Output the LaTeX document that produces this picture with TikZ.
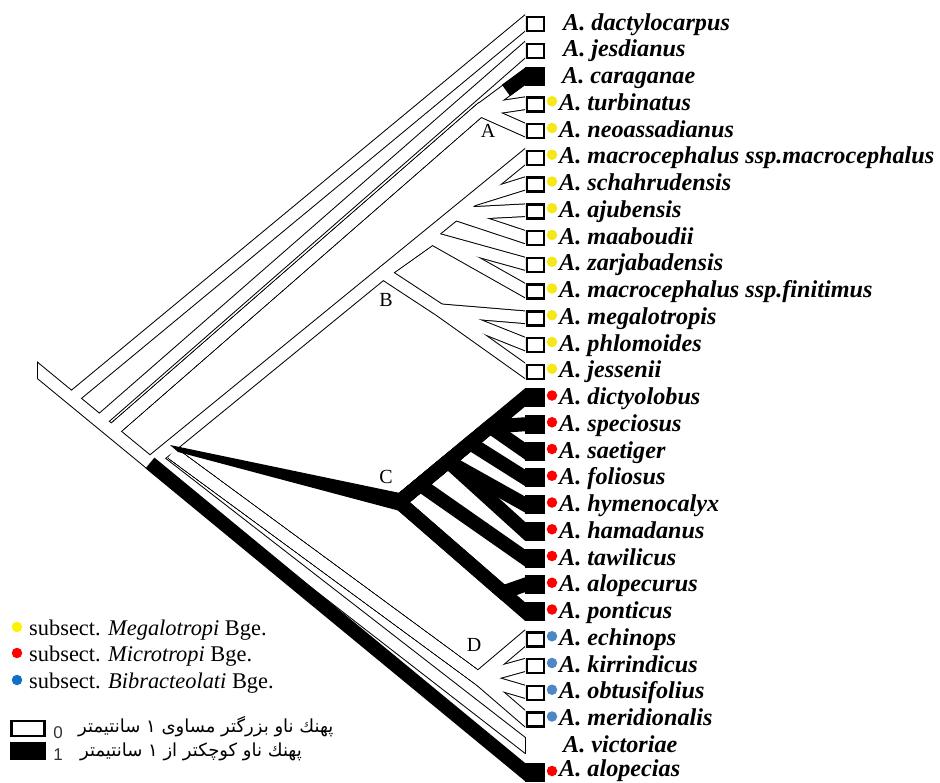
\documentclass[tikz,border=0pt]{standalone}
\usepackage{fontspec}
\setmainfont{Liberation Serif}
\newfontfamily\arabicfont[Script=Arabic]{DejaVu Sans}
\newfontfamily\legsans{Liberation Sans}
\TeXXeTstate=1
\definecolor{dotyel}{HTML}{F5E81A}
\definecolor{dotred}{HTML}{FF0000}
\definecolor{dotblu}{HTML}{4F86C6}
\definecolor{legblu}{HTML}{1070C8}
\tikzset{
  wout/.style={draw=black,line width=13.6pt,line cap=butt,line join=miter},
  win/.style={draw=white,line width=11.6pt,line cap=butt,line join=miter},
  blk/.style={draw=black,line width=14pt,line cap=butt,line join=miter},
  tipx/.style={shorten >=-14pt},
  wbox/.style={draw=black,line width=2.5pt,fill=white,minimum width=17pt,minimum height=14pt,inner sep=0pt},
  bbox/.style={fill=black,minimum width=20pt,minimum height=19pt,inner sep=0pt},
  tdot/.style={circle,inner sep=0pt,minimum size=10.5pt},
  lab/.style={anchor=base west,font=\fontsize{24.2}{24}\selectfont\bfseries\itshape,inner sep=0pt},
  clab/.style={font=\fontsize{20}{20}\selectfont,inner sep=0pt},
  leg/.style={anchor=base west,font=\fontsize{22.4}{22}\selectfont,inner sep=0pt},
  pers/.style={anchor=base west,font=\arabicfont\fontsize{18}{18}\selectfont,inner sep=0pt},
}
\newcommand\wpaths[1]{%
  \draw[#1,shorten <=-12pt] (S0) -- (N2);
  \draw[#1,tipx] (R) -- (t1);
  \draw[#1,tipx] (N1) -- (t2);
  \draw[#1,tipx] (N1b) -- (nA) -- (t3);
  \draw[#1,tipx] (N1b) -- (nA) -- (t4);
  \draw[#1,tipx] (N1b) -- (nA) -- (t5);
  \draw[#1,tipx] (N2) -- (t6);
  \draw[#1,tipx] (nBs) -- (t7);
  \draw[#1,tipx] (nBm) -- (t8);
  \draw[#1,tipx] (nBm) -- (t9);
  \draw[#1,tipx] (nB) -- (nBf) -- (t10);
  \draw[#1,tipx] (nB) -- (nBf) -- (t11);
  \draw[#1,tipx] (nB) -- (nBj) -- (t14);
  \draw[#1,tipx] (nBj) -- (t13);
  \draw[#1,tipx] (nBj) -- (t12);
  \draw[#1,tipx] (Dp) -- (nD) -- (t24);
  \draw[#1,tipx] (Dp) -- (nD) -- (t25);
  \draw[#1,tipx] (Dp) -- (nD) -- (t26);
  \draw[#1,tipx] (Dp) -- (nD) -- (t27);
  \draw[#1,tipx] (Vp) -- (t28);
}
\begin{document}
\begin{tikzpicture}[x=1pt,y=-1pt]
\useasboundingbox (0,0) rectangle (940,782);
% tip coordinates
\foreach \i in {1,...,29}{\coordinate (t\i) at (525,{23+26.75*(\i-1)});}
% internal nodes
\coordinate (S0) at (37,370);
\coordinate (R) at (72,398);
\coordinate (N1) at (100,421);
\coordinate (N1b) at (112,431);
\coordinate (N2) at (150,463);
\coordinate (nA) at (480,110);
\coordinate (cgs) at (506,90.4);
\coordinate (nB) at (383,272.8);
\coordinate (nBm) at (455,213.9);
\coordinate (nBs) at (472,200);
\coordinate (nBf) at (432,238);
\coordinate (nBj) at (440,310.2);
\coordinate (Ca) at (170,445);
\coordinate (Cb) at (178,452);
\coordinate (Cu) at (400,493);
\coordinate (Cl) at (400,511);
\coordinate (nC) at (399,502);
\coordinate (c1) at (420,484.6);
\coordinate (c2) at (448,461.4);
\coordinate (c3) at (470,443.1);
\coordinate (c4) at (490,426.6);
\coordinate (nCl) at (503,592.4);
\coordinate (Dp) at (172,453);
\coordinate (nD) at (478,678);
\coordinate (Vp) at (160,462);
\begin{scope}
  \clip (37,0) rectangle (525,782);
  \wpaths{wout}
  \wpaths{win}
  % black branches
  \draw[blk,tipx] (N2) -- (t29);
  \fill (Ca) -- (Cu) -- (Cl) -- (Cb) -- cycle;
  \draw[blk,tipx] (nC) -- (t15);
  \draw[blk,tipx] (nC) -- (c1) -- (t21);
  \draw[blk,tipx] (nC) -- (c2) -- (t19);
  \draw[blk,tipx] (nC) -- (c2) -- (t20);
  \draw[blk,tipx] (nC) -- (c3) -- (t18);
  \draw[blk,tipx] (nC) -- (c4) -- (t17);
  \draw[blk,tipx] (nC) -- (c4) -- (t16);
  \draw[blk,tipx] (nC) -- (nCl) -- (t22);
  \draw[blk,tipx] (nC) -- (nCl) -- (t23);
  \draw[blk,tipx] (cgs) -- (t3);
\end{scope}
\coordinate (s0a) at (37.5,361.5);
\coordinate (s0b) at (37.5,378.5);
\draw[line width=1pt] (s0a) -- (s0b);
\coordinate (va) at (525,736.5);
\coordinate (vb) at (525,754);
\draw[line width=1pt] (va) -- (vb);
% clade labels
\node[clab] (lA) at (488,131) {A};
\node[clab] (lB) at (386,300) {B};
\node[clab] (lC) at (386,477) {C};
\node[clab] (lD) at (474,645) {D};
% tip boxes
\foreach \i in {1,2,4,5,6,7,8,9,10,11,12,13,14,24,25,26,27}{\node[wbox] (b\i) at (535.5,{24+26.75*(\i-1)}) {};}
\foreach \i in {3,15,16,17,18,19,20,21,22,23}{\node[bbox] (b\i) at (535,{23+26.75*(\i-1)}) {};}
\node[bbox] (b29) at (535,772.5) {};
% dots
\foreach \i in {4,...,14}{\node[tdot,fill=dotyel] (d\i) at (552,{21+26.75*(\i-1)}) {};}
\foreach \i in {15,...,23}{\node[tdot,fill=dotred] (d\i) at (552,{21+26.75*(\i-1)}) {};}
\node[tdot,fill=dotred] (d29) at (552,771) {};
\foreach \i in {24,...,27}{\node[tdot,fill=dotblu] (d\i) at (552,{21+26.75*(\i-1)}) {};}
% taxon labels
\node[lab] (n1) at (563,30) {A. dactylocarpus};
\node[lab] (n2) at (563,56.75) {A. jesdianus};
\node[lab] (n3) at (562,83.5) {A. caraganae};
\node[lab] (n4) at (559,110.25) {A. turbinatus};
\node[lab] (n5) at (559,137) {A. neoassadianus};
\node[lab] (n6) at (559,163.75) {A. macrocephalus ssp.macrocephalus};
\node[lab] (n7) at (559,190.5) {A. schahrudensis};
\node[lab] (n8) at (559,217.25) {A. ajubensis};
\node[lab] (n9) at (559,244) {A. maaboudii};
\node[lab] (n10) at (559,270.75) {A. zarjabadensis};
\node[lab] (n11) at (559,297.5) {A. macrocephalus ssp.finitimus};
\node[lab] (n12) at (559,324.25) {A. megalotropis};
\node[lab] (n13) at (559,351) {A. phlomoides};
\node[lab] (n14) at (559,377.75) {A. jessenii};
\node[lab] (n15) at (559,404.5) {A. dictyolobus};
\node[lab] (n16) at (559,431.25) {A. speciosus};
\node[lab] (n17) at (559,458) {A. saetiger};
\node[lab] (n18) at (559,484.75) {A. foliosus};
\node[lab] (n19) at (559,511.5) {A. hymenocalyx};
\node[lab] (n20) at (559,538.25) {A. hamadanus};
\node[lab] (n21) at (559,565) {A. tawilicus};
\node[lab] (n22) at (559,591.75) {A. alopecurus};
\node[lab] (n23) at (559,618.5) {A. ponticus};
\node[lab] (n24) at (559,645.25) {A. echinops};
\node[lab] (n25) at (559,672) {A. kirrindicus};
\node[lab] (n26) at (559,698.75) {A. obtusifolius};
\node[lab] (n27) at (559,725.5) {A. meridionalis};
\node[lab] (n28) at (563,752.25) {A. victoriae};
\node[lab] (n29) at (559,776.5) {A. alopecias};
% legend
\node[tdot,fill=yellow] (ly) at (17,627) {};
\node[tdot,fill=dotred] (lr) at (17,653) {};
\node[tdot,fill=legblu] (lb) at (17,680) {};
\node[leg] (tly) at (29,635) {subsect. \textit{Megalotropi} Bge.};
\node[leg] (tlr) at (29,661) {subsect. \textit{Microtropi} Bge.};
\node[leg] (tlb) at (29,688) {subsect. \textit{Bibracteolati} Bge.};
\node[draw,line width=2.2pt,minimum width=33pt,minimum height=15pt,inner sep=0pt] (l0) at (28,728.5) {};
\node[fill=black,minimum width=36pt,minimum height=18pt,inner sep=0pt] (l1) at (28,751) {};
\node[anchor=base,font=\legsans\fontsize{17}{17}\selectfont,text=black!80,inner sep=0pt] (z0) at (58,738) {0};
\node[anchor=base,font=\legsans\fontsize{17}{17}\selectfont,text=black!80,inner sep=0pt] (z1) at (58,760) {1};
\node[pers] (p0) at (78,732) {\beginR پهنك ناو بزرگتر مساوی ۱ سانتیمتر\endR};
\node[pers] (p1) at (80,756) {\beginR پهنك ناو كوچكتر از ۱ سانتیمتر\endR};
\end{tikzpicture}
\end{document}
